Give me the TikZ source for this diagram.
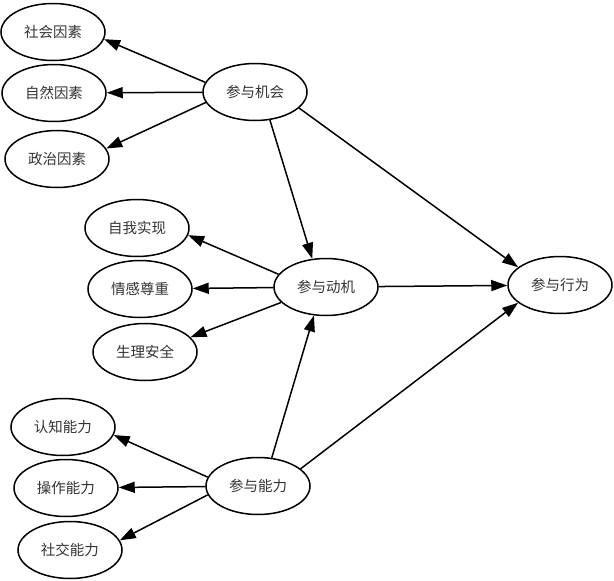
\documentclass[tikz,border=0pt]{standalone}
\usepackage{fontspec}
\newfontfamily\cjk{Noto Sans CJK SC}
\usetikzlibrary{shapes.geometric,arrows.meta}
\begin{document}
\begin{tikzpicture}[x=1pt,y=-1pt,
  ell/.style={draw=black,line width=1.5pt,ellipse,minimum width=104pt,minimum height=57pt,inner sep=0pt,
    font=\cjk\fontsize{14.5}{14.5}\selectfont,text=black!80},
  conn/.style={line width=1.5pt,-{Triangle[length=16pt,width=11pt]}}]
\useasboundingbox (0,0) rectangle (614,581);
\node[ell] (shfy) at (53,32) {社会因素};
\node[ell] (zrfy) at (54,93) {自然因素};
\node[ell] (zzfy) at (57,159) {政治因素};
\node[ell] (jh) at (255,92) {参与机会};
\node[ell] (zw) at (137,228) {自我实现};
\node[ell] (qg) at (140,289) {情感尊重};
\node[ell] (sl) at (145,352) {生理安全};
\node[ell] (dj) at (326,287) {参与动机};
\node[ell] (xw) at (560,285) {参与行为};
\node[ell] (rz) at (63,427) {认知能力};
\node[ell] (cz) at (66,488) {操作能力};
\node[ell] (sj) at (70,550) {社交能力};
\node[ell] (nl) at (258,486) {参与能力};
\draw[conn] (jh.169) -- (shfy.-8);
\draw[conn] (jh) -- (zrfy);
\draw[conn] (jh.192) -- (zzfy.12);
\draw[conn] (jh.-62) -- (dj.116);
\draw[conn] (jh.-20) -- (xw.157);
\draw[conn] (dj) -- (xw);
\draw[conn] (nl.22) -- (xw.203);
\draw[conn] (nl.64) -- (dj.247);
\draw[conn] (dj.165) -- (zw.-8);
\draw[conn] (dj) -- (qg);
\draw[conn] (dj.199) -- (sl.18);
\draw[conn] (nl.170) -- (rz.-9);
\draw[conn] (nl) -- (cz);
\draw[conn] (nl.190) -- (sj.11);
\end{tikzpicture}
\end{document}
